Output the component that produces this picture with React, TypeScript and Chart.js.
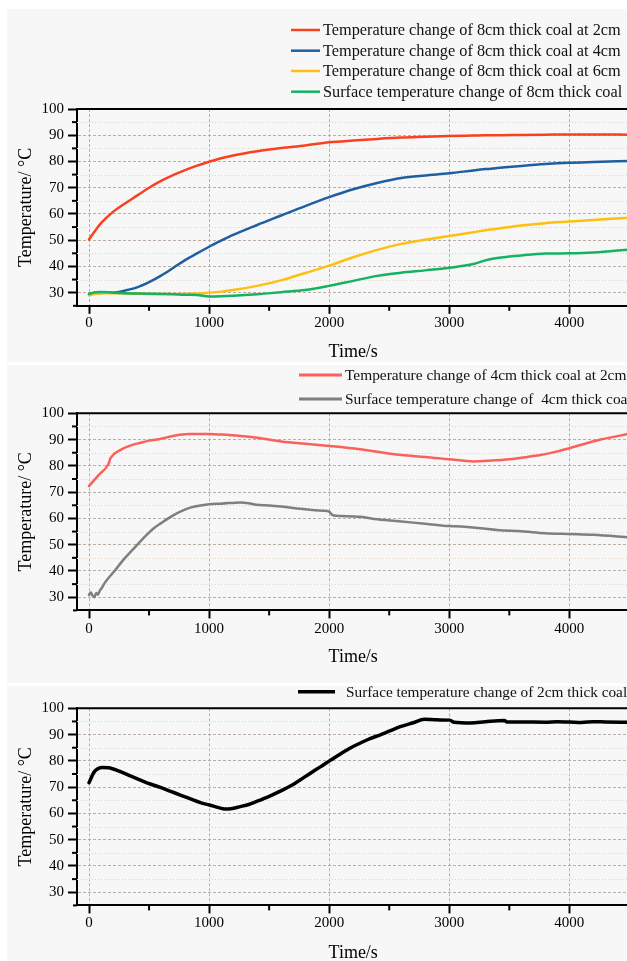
import React, { useEffect, useRef } from 'react';
import { Chart, registerables } from 'chart.js';

Chart.register(...registerables);

const FONT = '"Liberation Serif", "Times New Roman", serif';

// ---------- Chart 1: 8cm thick coal ----------
const time8cm = [0, 50, 100, 200, 300, 400, 500, 600, 700, 800, 900, 1000, 1100, 1200, 1400, 1600, 1800, 2000, 2200, 2400, 2600, 2800, 3000, 3200, 3300, 3400, 3600, 3800, 4000, 4200, 4500];
const temp8cmAt2cm = [50.3, 53.5, 56.5, 60.8, 64.0, 67.0, 70.0, 72.6, 74.8, 76.7, 78.4, 79.9, 81.2, 82.3, 83.9, 85.1, 86.1, 87.3, 88.0, 88.6, 89.1, 89.4, 89.7, 89.9, 90.0, 90.0, 90.1, 90.2, 90.3, 90.3, 90.2];
const temp8cmAt4cm = [29.5, 29.7, 29.9, 30.0, 30.8, 32.0, 34.0, 36.5, 39.4, 42.4, 45.0, 47.5, 49.8, 52.0, 55.8, 59.4, 63.0, 66.4, 69.4, 71.8, 73.7, 74.7, 75.5, 76.6, 77.1, 77.5, 78.3, 79.0, 79.5, 79.8, 80.2];
const temp8cmAt6cm = [29.0, 29.5, 29.8, 29.8, 29.7, 29.6, 29.5, 29.5, 29.5, 29.5, 29.7, 30.0, 30.4, 31.0, 32.6, 34.7, 37.5, 40.3, 43.5, 46.3, 48.6, 50.2, 51.6, 53.0, 53.8, 54.4, 55.6, 56.5, 57.1, 57.7, 58.6];
const temp8cmSurface = [29.5, 30.2, 30.3, 30.0, 29.8, 29.7, 29.6, 29.5, 29.4, 29.2, 29.1, 28.5, 28.6, 28.8, 29.4, 30.2, 31.0, 32.6, 34.5, 36.4, 37.6, 38.5, 39.5, 40.9, 42.3, 43.2, 44.2, 44.9, 45.0, 45.3, 46.5];

// ---------- Chart 2: 4cm thick coal ----------
const time4cmAt2cm = [0, 80, 160, 180, 260, 350, 430, 500, 600, 700, 830, 1000, 1100, 1260, 1400, 1600, 1800, 2000, 2100, 2260, 2400, 2600, 2800, 3000, 3200, 3350, 3500, 3600, 3760, 3900, 4000, 4260, 4500];
const temp4cmAt2cm = [72.3, 76.5, 80.5, 83.0, 86.0, 87.8, 88.8, 89.6, 90.3, 91.4, 92.1, 92.1, 91.9, 91.4, 90.7, 89.3, 88.4, 87.6, 87.2, 86.3, 85.4, 84.1, 83.4, 82.5, 81.7, 82.0, 82.5, 83.1, 84.1, 85.5, 86.7, 90.0, 92.2];
const time4cmSurface = [0, 15, 30, 45, 60, 75, 90, 110, 130, 160, 195, 230, 262, 300, 362, 430, 495, 550, 600, 680, 760, 850, 1000, 1100, 1260, 1330, 1393, 1500, 1600, 1800, 1950, 2000, 2030, 2100, 2260, 2400, 2600, 2800, 3000, 3100, 3260, 3400, 3600, 3800, 4000, 4200, 4500];
const temp4cmSurface = [30.9, 31.8, 30.6, 30.0, 31.6, 31.0, 32.5, 33.8, 35.4, 37.2, 39.1, 41.0, 42.9, 45.0, 48.0, 51.4, 54.4, 56.6, 58.2, 60.6, 62.6, 64.2, 65.4, 65.6, 66.1, 65.8, 65.2, 64.9, 64.5, 63.5, 62.9, 62.6, 61.2, 60.9, 60.6, 59.7, 58.8, 58.0, 57.1, 56.9, 56.3, 55.6, 55.1, 54.4, 54.1, 53.8, 52.8];

// ---------- Chart 3: 2cm thick coal ----------
const time2cmSurface = [0, 45, 112, 162, 262, 350, 428, 510, 595, 680, 761, 850, 928, 1004, 1080, 1130, 1180, 1260, 1330, 1393, 1500, 1593, 1700, 1760, 1850, 1930, 2002, 2100, 2180, 2260, 2340, 2426, 2500, 2592, 2700, 2792, 2900, 3004, 3040, 3180, 3300, 3460, 3480, 3600, 3800, 3900, 4000, 4100, 4200, 4300, 4500];
const temp2cmSurface = [71.7, 75.9, 77.5, 77.4, 75.9, 74.2, 72.7, 71.2, 69.9, 68.4, 67.0, 65.4, 64.1, 63.2, 62.2, 61.7, 61.8, 62.6, 63.4, 64.5, 66.5, 68.5, 71.0, 72.8, 75.5, 77.8, 80.0, 82.8, 85.0, 86.8, 88.5, 89.9, 91.3, 93.0, 94.5, 95.8, 95.6, 95.5, 94.7, 94.4, 94.9, 95.4, 94.8, 94.8, 94.7, 94.9, 94.8, 94.6, 94.9, 94.8, 94.7];

// ---------- Axes ----------
const xMin = -100;
const xMax = 4500;
const yMin = 25;
const yMax = 100;
const xMajorTicks = [0, 1000, 2000, 3000, 4000];
const xMinorTicks = [500, 1500, 2500, 3500, 4500];
const yMajorTicks = [30, 40, 50, 60, 70, 80, 90, 100];
const yMinorTicks = [35, 45, 55, 65, 75, 85, 95];
const xTitle = 'Time/s';
const yTitle = 'Temperature/ °C';

const MAJOR_GRID = '#bcaea6';
const MINOR_GRID = '#ddd6c0';

const toXY = (t: number[], v: number[]) => t.map((x, i) => ({ x, y: v[i] }));

type LegendCfg = { x1: number; x2: number; tx: number; rows: number[]; lw: number; size: number };

function makeDecor(legend: LegendCfg) {
  return {
    id: 'decor',
    beforeDatasetsDraw(chart: any) {
      const { ctx, chartArea: a, scales } = chart;
      const y = scales.y;
      ctx.save();
      ctx.strokeStyle = MINOR_GRID;
      ctx.lineWidth = 1;
      ctx.setLineDash([1, 2]);
      for (const v of yMinorTicks) {
        const py = Math.round(y.getPixelForValue(v)) + 0.5;
        ctx.beginPath();
        ctx.moveTo(a.left, py);
        ctx.lineTo(a.right, py);
        ctx.stroke();
      }
      ctx.restore();
    },
    afterDraw(chart: any) {
      const { ctx, chartArea: a, scales } = chart;
      const x = scales.x;
      const y = scales.y;
      ctx.save();
      ctx.strokeStyle = '#000';
      ctx.lineWidth = 2;
      ctx.setLineDash([]);
      ctx.beginPath();
      ctx.moveTo(a.left - 1, a.top);
      ctx.lineTo(a.right, a.top);
      ctx.lineTo(a.right, a.bottom);
      ctx.stroke();
      ctx.beginPath();
      ctx.moveTo(a.left - 4, a.bottom);
      ctx.lineTo(a.left, a.bottom);
      ctx.stroke();
      for (const v of xMinorTicks) {
        const px = x.getPixelForValue(v);
        ctx.beginPath();
        ctx.moveTo(px, a.bottom);
        ctx.lineTo(px, a.bottom + 5);
        ctx.stroke();
      }
      for (const v of yMinorTicks) {
        const py = y.getPixelForValue(v);
        ctx.beginPath();
        ctx.moveTo(a.left, py);
        ctx.lineTo(a.left - 5, py);
        ctx.stroke();
      }
      // legend
      ctx.font = `${legend.size}px ${FONT}`;
      ctx.textBaseline = 'middle';
      ctx.textAlign = 'left';
      chart.data.datasets.forEach((ds: any, i: number) => {
        const ry = legend.rows[i];
        ctx.strokeStyle = ds.borderColor;
        ctx.lineWidth = legend.lw;
        ctx.beginPath();
        ctx.moveTo(legend.x1, ry);
        ctx.lineTo(legend.x2, ry);
        ctx.stroke();
        ctx.fillStyle = '#111';
        ctx.fillText(ds.label, legend.tx, ry + 1);
      });
      ctx.restore();
    },
  };
}

type PanelProps = {
  top: number;
  height: number;
  areaTop: number;
  areaBottom: number;
  titleOffset: number;
  xTickPad: number;
  datasets: any[];
  legend: LegendCfg;
};

const CANVAS_W = 660;
const AREA_LEFT = 77;
const AREA_RIGHT = 629.4;

function Panel(p: PanelProps) {
  const ref = useRef<HTMLCanvasElement | null>(null);
  useEffect(() => {
    if (!ref.current) return;
    const xScaleH = p.height - p.areaBottom;
    const chart = new Chart(ref.current, {
      type: 'line',
      data: { datasets: p.datasets },
      plugins: [makeDecor(p.legend)],
      options: {
        animation: false,
        responsive: false,
        devicePixelRatio: 1,
        layout: { padding: { left: 0, top: p.areaTop, right: CANVAS_W - AREA_RIGHT, bottom: 0 } },
        plugins: { legend: { display: false }, tooltip: { enabled: false } },
        elements: { point: { radius: 0 } },
        scales: {
          x: {
            type: 'linear',
            min: xMin,
            max: xMax,
            afterBuildTicks: (s: any) => {
              s.ticks = xMajorTicks.map((v) => ({ value: v }));
            },
            afterFit: (s: any) => {
              s.height = xScaleH;
            },
            ticks: {
              color: '#000',
              font: { family: FONT, size: 15, lineHeight: 1.2 },
              padding: p.xTickPad,
              maxRotation: 0,
              callback: (v: any) => String(v),
            },
            grid: {
              color: MAJOR_GRID,
              lineWidth: 1,
              tickLength: 8,
              tickColor: '#000',
              tickWidth: 2,
            },
            border: { display: true, color: '#000', width: 2, dash: [3, 2] },
            title: {
              display: true,
              text: xTitle,
              color: '#000',
              font: { family: FONT, size: 18, lineHeight: 1 },
              padding: { top: 0, bottom: p.titleOffset - 9 },
            },
          },
          y: {
            type: 'linear',
            min: yMin,
            max: yMax,
            afterBuildTicks: (s: any) => {
              s.ticks = yMajorTicks.map((v) => ({ value: v }));
            },
            afterFit: (s: any) => {
              s.width = AREA_LEFT;
            },
            ticks: {
              color: '#000',
              font: { family: FONT, size: 15, lineHeight: 1.2 },
              padding: 4,
              callback: (v: any) => String(v),
            },
            grid: {
              color: MAJOR_GRID,
              lineWidth: 1,
              tickLength: 9,
              tickColor: '#000',
              tickWidth: 2,
            },
            border: { display: true, color: '#000', width: 2, dash: [3, 2] },
            title: {
              display: true,
              text: yTitle,
              color: '#000',
              font: { family: FONT, size: 18, lineHeight: 1 },
              padding: { top: 17.7, bottom: 0 },
            },
          },
        },
      } as any,
    });
    return () => chart.destroy();
  }, []);
  return (
    <canvas
      ref={ref}
      width={CANVAS_W}
      height={p.height}
      style={{ position: 'absolute', left: 0, top: p.top, width: CANVAS_W, height: p.height }}
    />
  );
}

const line = (label: string, color: string, t: number[], v: number[], width: number, order: number) => ({
  label,
  data: toXY(t, v),
  borderColor: color,
  backgroundColor: color,
  borderWidth: width,
  pointRadius: 0,
  cubicInterpolationMode: 'monotone',
  borderJoinStyle: 'round',
  borderCapStyle: 'round',
  fill: false,
  order,
});

export default function App() {
  const ds1 = [
    line('Temperature change of 8cm thick coal at 2cm', '#f9401f', time8cm, temp8cmAt2cm, 2.5, 3),
    line('Temperature change of 8cm thick coal at 4cm', '#1f5f9f', time8cm, temp8cmAt4cm, 2.5, 2),
    line('Temperature change of 8cm thick coal at 6cm', '#fdc010', time8cm, temp8cmAt6cm, 2.5, 1),
    line('Surface temperature change of 8cm thick coal', '#14b262', time8cm, temp8cmSurface, 2.5, 0),
  ];
  const ds2 = [
    line('Temperature change of 4cm thick coal at 2cm', '#fb615b', time4cmAt2cm, temp4cmAt2cm, 2.5, 1),
    line('Surface temperature change of  4cm thick coal', '#7f7f7f', time4cmSurface, temp4cmSurface, 2.5, 0),
  ];
  const ds3 = [
    line('Surface temperature change of 2cm thick coal', '#000000', time2cmSurface, temp2cmSurface, 3.5, 0),
  ];
  const panelBg = '#f7f7f7';
  return (
    <div style={{ position: 'fixed', left: 0, top: 0, width: 627, height: 961, overflow: 'hidden', background: '#fff' }}>
      <div style={{ position: 'absolute', left: 7, top: 9, width: 640, height: 353, background: panelBg }} />
      <div style={{ position: 'absolute', left: 7, top: 365, width: 640, height: 318, background: panelBg }} />
      <div style={{ position: 'absolute', left: 7, top: 686, width: 640, height: 290, background: panelBg }} />
      <Panel
        top={0}
        height={362}
        areaTop={109}
        areaBottom={305.8}
        titleOffset={10}
        xTickPad={0}
        datasets={ds1}
        legend={{ x1: 291, x2: 320, tx: 323, rows: [30, 50.7, 71, 91.7], lw: 2.5, size: 16.3 }}
      />
      <Panel
        top={362}
        height={321}
        areaTop={51.3}
        areaBottom={248.4}
        titleOffset={25.3}
        xTickPad={2}
        datasets={ds2}
        legend={{ x1: 299, x2: 342, tx: 345, rows: [13, 37], lw: 3, size: 15.4 }}
      />
      <Panel
        top={680}
        height={300}
        areaTop={28.3}
        areaBottom={225.4}
        titleOffset={27}
        xTickPad={1}
        datasets={ds3}
        legend={{ x1: 298, x2: 335, tx: 346, rows: [11.7], lw: 3.5, size: 15.3 }}
      />
    </div>
  );
}
